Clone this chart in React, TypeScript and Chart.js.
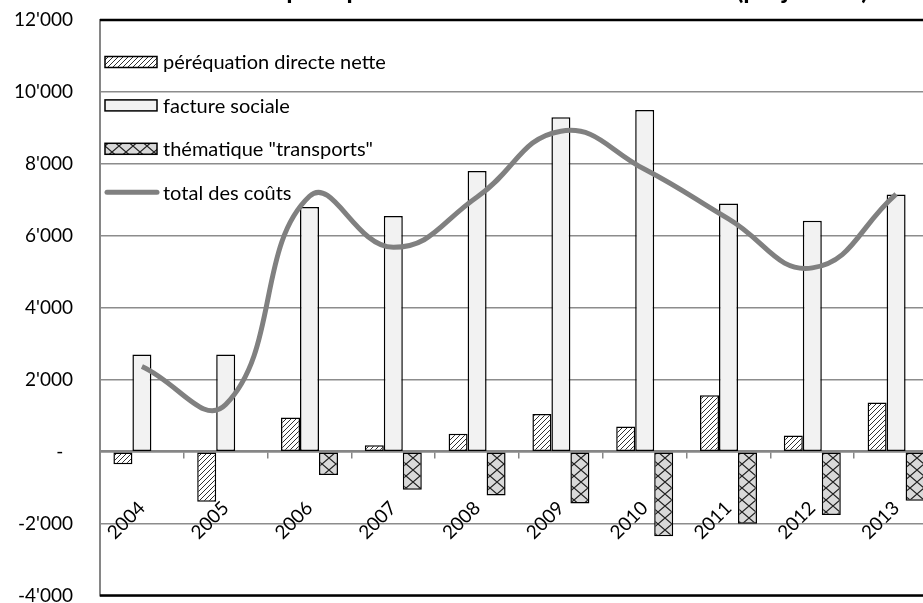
import React, { useEffect, useRef } from "react";
import { Chart, registerables } from "chart.js";

Chart.register(...registerables);

const years = ["2004", "2005", "2006", "2007", "2008", "2009", "2010", "2011", "2012", "2013"];
const perequation = [-350, -1390, 950, 180, 500, 1050, 700, 1570, 450, 1370];
const factureSociale = [2700, 2700, 6800, 6550, 7800, 9300, 9500, 6900, 6420, 7150];
const transports = [null, null, -650, -1060, -1220, -1440, -2350, -2000, -1760, -1360];
const totalCouts = [2370, 1310, 7100, 5680, 7080, 8910, 7850, 6470, 5110, 7160];
const seriesLabels = ["péréquation directe nette", "facture sociale", 'thématique "transports"', "total des coûts"];
const titleText = "Coûts totaux de la péréquation intercommunale vaudoise (projection)";
const yMin = -4000;
const yMax = 12000;
const yStep = 2000;

const FONT = "Lato";

function formatTick(v: number): string {
  if (v === 0) return "-  ";
  const s = String(Math.abs(v)).replace(/\B(?=(\d{3})+(?!\d))/g, "'");
  return (v < 0 ? "-" : "") + s;
}

function makeHatch(): CanvasPattern | string {
  const s = 5;
  const c = document.createElement("canvas");
  c.width = s;
  c.height = s;
  const g = c.getContext("2d");
  if (!g) return "#fff";
  g.fillStyle = "#ffffff";
  g.fillRect(0, 0, s, s);
  g.strokeStyle = "#303030";
  g.lineWidth = 1;
  g.beginPath();
  g.moveTo(0, s);
  g.lineTo(s, 0);
  g.moveTo(-1, 1);
  g.lineTo(1, -1);
  g.moveTo(s - 1, s + 1);
  g.lineTo(s + 1, s - 1);
  g.stroke();
  return g.createPattern(c, "repeat") || "#fff";
}

function makeLattice(): CanvasPattern | string {
  const w = 14;
  const h = 12;
  const c = document.createElement("canvas");
  c.width = w;
  c.height = h;
  const g = c.getContext("2d");
  if (!g) return "#d9d9d9";
  g.fillStyle = "#d9d9d9";
  g.fillRect(0, 0, w, h);
  g.strokeStyle = "#202020";
  g.lineWidth = 1.2;
  g.beginPath();
  g.moveTo(0, 0);
  g.lineTo(w, h);
  g.moveTo(w, 0);
  g.lineTo(0, h);
  g.stroke();
  return g.createPattern(c, "repeat") || "#d9d9d9";
}

const insideLegend = {
  id: "insideLegend",
  afterDraw(chart: any) {
    const ctx = chart.ctx as CanvasRenderingContext2D;
    const area = chart.chartArea;
    const x0 = area.left + 5;
    const boxW = 52;
    ctx.save();
    ctx.font = `20px ${FONT}`;
    ctx.textBaseline = "middle";
    ctx.textAlign = "left";
    chart.data.datasets.forEach((ds: any, i: number) => {
      const cy = area.top + 42 + i * 43.4;
      if (ds.type === "line") {
        ctx.strokeStyle = ds.borderColor;
        ctx.lineWidth = ds.borderWidth;
        ctx.lineCap = "round";
        ctx.beginPath();
        ctx.moveTo(x0 + 2, cy);
        ctx.lineTo(x0 + boxW, cy);
        ctx.stroke();
      } else {
        ctx.fillStyle = ds.backgroundColor;
        ctx.fillRect(x0, cy - 5.5, boxW, 11);
        ctx.strokeStyle = "#000";
        ctx.lineWidth = 1.5;
        ctx.strokeRect(x0, cy - 5.5, boxW, 11);
      }
      ctx.fillStyle = "#000";
      ctx.fillText(ds.label, x0 + boxW + 6, cy + 1);
    });
    ctx.restore();
  },
};

const frameLines = {
  id: "frameLines",
  afterDatasetsDraw(chart: any) {
    const ctx = chart.ctx as CanvasRenderingContext2D;
    const a = chart.chartArea;
    ctx.save();
    ctx.strokeStyle = "#000";
    ctx.lineWidth = 2.5;
    ctx.beginPath();
    ctx.moveTo(a.left, a.top);
    ctx.lineTo(a.right + 30, a.top);
    ctx.moveTo(a.left, a.bottom);
    ctx.lineTo(a.right + 30, a.bottom);
    ctx.stroke();
    ctx.restore();
  },
};

export default function App() {
  const ref = useRef<HTMLCanvasElement | null>(null);

  useEffect(() => {
    if (!ref.current) return;
    const hatch = makeHatch();
    const lattice = makeLattice();
    const chart = new Chart(ref.current, {
      type: "bar",
      data: {
        labels: years,
        datasets: [
          {
            type: "bar",
            label: seriesLabels[0],
            data: perequation,
            backgroundColor: hatch as any,
            borderColor: "#000",
            borderWidth: 1.5,
            borderSkipped: false,
            order: 1,
          },
          {
            type: "bar",
            label: seriesLabels[1],
            data: factureSociale,
            backgroundColor: "#f2f2f2",
            borderColor: "#000",
            borderWidth: 1.5,
            borderSkipped: false,
            order: 1,
          },
          {
            type: "bar",
            label: seriesLabels[2],
            data: transports as any,
            backgroundColor: lattice as any,
            borderColor: "#000",
            borderWidth: 1.5,
            borderSkipped: false,
            order: 1,
          },
          {
            type: "line",
            label: seriesLabels[3],
            data: totalCouts,
            borderColor: "#808080",
            borderWidth: 5,
            tension: 0.45,
            pointRadius: 0,
            fill: false,
            order: 0,
          } as any,
        ],
      },
      options: {
        responsive: false,
        animation: false,
        datasets: {
          bar: { categoryPercentage: 0.68, barPercentage: 1 },
        },
        layout: { padding: { top: 15, right: 22, bottom: 17.6, left: 0 } },
        plugins: {
          legend: { display: false },
          tooltip: { enabled: false },
          title: {
            display: true,
            text: titleText,
            color: "#000",
            font: { family: FONT, size: 26, weight: "bold" },
            padding: { top: 0, bottom: 13.8 },
          },
        },
        scales: {
          x: {
            position: { y: 0 } as any,
            afterFit: (s: any) => {
              s.height = 0;
            },
            grid: {
              display: true,
              drawOnChartArea: false,
              drawTicks: true,
              tickLength: 6,
              color: "#868686",
              lineWidth: 1.5,
              offset: true,
            },
            border: { display: true, color: "#868686", width: 2.5 },
            ticks: {
              color: "#000",
              font: { family: FONT, size: 19 },
              minRotation: 45,
              maxRotation: 45,
              padding: 39,
              autoSkip: false,
            },
          },
          y: {
            min: yMin,
            max: yMax,
            afterFit: (s: any) => {
              s.width = 100;
            },
            grid: { color: "#8c8c8c", lineWidth: 1.5, drawTicks: false },
            border: { display: true, color: "#868686", width: 2 },
            ticks: {
              stepSize: yStep,
              color: "#000",
              font: { family: FONT, size: 19 },
              padding: 27,
              callback: (v: any) => formatTick(Number(v)),
            },
          },
        },
      },
      plugins: [frameLines, insideLegend],
    });
    return () => chart.destroy();
  }, []);

  return (
    <div style={{ position: "fixed", left: 0, top: 0, width: "100vw", height: "100vh", overflow: "hidden", background: "#fff" }}>
      <canvas ref={ref} width={960} height={674} style={{ position: "absolute", left: 0, top: -40 }} />
    </div>
  );
}
